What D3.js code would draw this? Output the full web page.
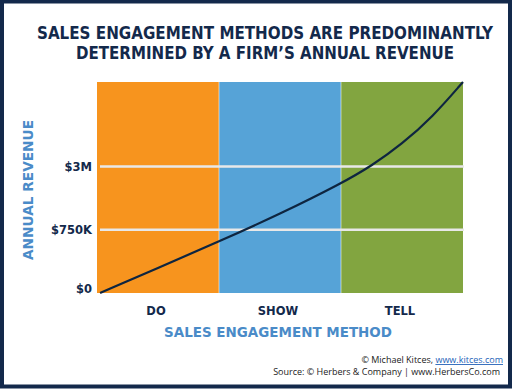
<!DOCTYPE html>
<html>
<head>
<meta charset="utf-8">
<script src="https://cdn.jsdelivr.net/npm/d3@7"></script>
<style>
  body { margin: 0; background: #fff; }
  svg { display: block; font-family: "DejaVu Sans", "Open Sans", sans-serif; }
  .domain { display: none; }
</style>
</head>
<body>
<svg id="chart" width="512" height="389"></svg>
<script>
// categories (columns) and their fills
var methods = ["DO", "SHOW", "TELL"];
var methodColors = ["#F7941E", "#56A3D7", "#82A540"];

// y ticks: position on a 0-100 scale and the label drawn there
var tickPos = [0, 30, 60];
var tickLabels = ["$0", "$750K", "$3M"];

// revenue curve, x in column units (0..3), y on the 0-100 scale
var curveX = [0.025, 0.5, 1.0, 1.5, 2.0, 2.25, 2.5, 2.75, 3.0];
var curveY = [0, 11.9, 24.4, 37.4, 51.8, 60.2, 70.6, 83.4, 100];

var titleLines = ["SALES ENGAGEMENT METHODS ARE PREDOMINANTLY",
                  "DETERMINED BY A FIRM\u2019S ANNUAL REVENUE"];

var navy = "#13294B";
var blue = "#4A8BC8";

var svg = d3.select("#chart");
var plot = { left: 97, right: 463, top: 82, bottom: 293 };

// frame
svg.append("rect")
    .attr("x", 2).attr("y", 1.5)
    .attr("width", 508).attr("height", 385)
    .attr("fill", "none")
    .attr("stroke", navy)
    .attr("stroke-width", 4);

// title
svg.selectAll(".title")
    .data(titleLines)
    .enter().append("text")
    .attr("class", "title")
    .attr("x", 265)
    .attr("y", function(d, i) { return 39 + i * 19.6; })
    .attr("text-anchor", "middle")
    .attr("fill", navy)
    .attr("font-weight", "bold")
    .attr("font-size", 16.8)
    .attr("font-family", "DejaVu Sans Condensed, DejaVu Sans, sans-serif")
    .attr("font-stretch", "condensed")
    .attr("textLength", function(d, i) { return i == 0 ? 456 : 378; })
    .attr("lengthAdjust", "spacingAndGlyphs")
    .text(function(d) { return d; });

var xBand = d3.scaleBand()
    .domain(methods)
    .range([plot.left, plot.right]);

var xLin = d3.scaleLinear()
    .domain([0, 3])
    .range([plot.left, plot.right]);

var y = d3.scaleLinear()
    .domain([0, 100])
    .range([plot.bottom, plot.top]);

// column backgrounds
svg.selectAll(".col")
    .data(methods)
    .enter().append("rect")
    .attr("class", "col")
    .attr("x", function(d) { return xBand(d); })
    .attr("y", y(100))
    .attr("width", xBand.bandwidth())
    .attr("height", y(0) - y(100))
    .attr("fill", function(d, i) { return methodColors[i]; });

// thin light separators between columns
svg.selectAll(".sep")
    .data(methods.slice(1))
    .enter().append("line")
    .attr("class", "sep")
    .attr("x1", function(d) { return xBand(d); })
    .attr("x2", function(d) { return xBand(d); })
    .attr("y1", y(100))
    .attr("y2", y(0))
    .attr("stroke", "#ffffff")
    .attr("stroke-opacity", 0.55)
    .attr("stroke-width", 1);

// gridlines
svg.selectAll(".grid")
    .data(tickPos.slice(1))
    .enter().append("line")
    .attr("class", "grid")
    .attr("x1", plot.left + 3)
    .attr("x2", plot.right + 1)
    .attr("y1", function(d) { return y(d); })
    .attr("y2", function(d) { return y(d); })
    .attr("stroke", "#E8E8E8")
    .attr("stroke-width", 2.5);

// curve
var pts = curveX.map(function(d, i) { return [d, curveY[i]]; });
var line = d3.line()
    .x(function(d) { return xLin(d[0]); })
    .y(function(d) { return y(d[1]); })
    .curve(d3.curveBasis);

svg.append("path")
    .datum(pts)
    .attr("d", line)
    .attr("fill", "none")
    .attr("stroke", "#0E2540")
    .attr("stroke-width", 2.2);

// y axis labels
var yAxis = svg.append("g")
    .attr("transform", "translate(" + (plot.left - 5) + ",0)")
    .call(d3.axisLeft(y)
        .tickValues(tickPos)
        .tickSize(0)
        .tickPadding(0)
        .tickFormat(function(d, i) { return tickLabels[i]; }));

yAxis.selectAll("text")
    .attr("fill", navy)
    .attr("font-weight", "bold")
    .attr("font-size", 11.5)
    .attr("font-family", "DejaVu Sans, sans-serif")
    .attr("dy", function(d) { return d == 0 ? "-0.05em" : "0.32em"; });

// x axis labels
var xAxis = svg.append("g")
    .attr("transform", "translate(-2," + plot.bottom + ")")
    .call(d3.axisBottom(xBand).tickSize(0).tickPadding(14));

xAxis.selectAll("text")
    .attr("fill", navy)
    .attr("font-weight", "bold")
    .attr("font-size", 11.5)
    .attr("font-family", "DejaVu Sans, sans-serif");

// axis titles
svg.append("text")
    .attr("x", 278)
    .attr("y", 337)
    .attr("text-anchor", "middle")
    .attr("fill", blue)
    .attr("font-weight", "bold")
    .attr("font-size", 14.5)
    .attr("textLength", 228)
    .attr("lengthAdjust", "spacingAndGlyphs")
    .text("SALES ENGAGEMENT METHOD");

svg.append("text")
    .attr("transform", "translate(33,190) rotate(-90)")
    .attr("text-anchor", "middle")
    .attr("fill", blue)
    .attr("font-weight", "bold")
    .attr("font-size", 14.5)
    .attr("textLength", 140)
    .attr("lengthAdjust", "spacingAndGlyphs")
    .text("ANNUAL REVENUE");

// source
var src1 = svg.append("text")
    .attr("x", 503)
    .attr("y", 363)
    .attr("text-anchor", "end")
    .attr("fill", "#222")
    .attr("font-size", 9)
    .attr("font-family", "Open Sans, sans-serif");
src1.append("tspan").text("\u00A9 Michael Kitces, ");
src1.append("tspan")
    .attr("fill", "#2563B8")
    .attr("text-decoration", "underline")
    .text("www.kitces.com");

svg.append("text")
    .attr("x", 500)
    .attr("y", 375)
    .attr("text-anchor", "end")
    .attr("fill", "#222")
    .attr("font-size", 9)
    .attr("font-family", "Open Sans, sans-serif")
    .text("Source: \u00A9 Herbers & Company | www.HerbersCo.com");
</script>
</body>
</html>
